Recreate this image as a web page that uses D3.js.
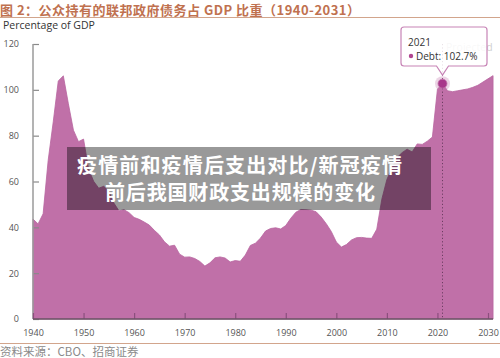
<!DOCTYPE html>
<html>
<head>
<meta charset="utf-8">
<script src="https://cdn.jsdelivr.net/npm/d3@7/dist/d3.min.js"></script>
<style>
html,body{margin:0;padding:0;background:#fff;}
svg{display:block;}
</style>
</head>
<body>
<svg id="chart" width="500" height="358"></svg>
<script>
const years = d3.range(1940, 2032);
const debt = [
  43.6, 41.5, 45.9, 69.2, 86.0, 103.9, 106.1, 93.9, 82.4, 77.4,
  78.5, 65.4, 60.1, 57.1, 57.9, 55.7, 50.6, 47.2, 47.7, 46.4,
  44.3, 43.5, 42.3, 41.0, 38.7, 36.7, 33.7, 31.8, 32.2, 28.3,
  27.0, 27.1, 26.4, 25.1, 23.1, 24.5, 26.7, 27.1, 26.6, 24.9,
  25.5, 25.2, 27.9, 32.1, 33.1, 35.3, 38.4, 39.5, 39.8, 39.3,
  40.8, 44.0, 46.6, 47.8, 47.7, 47.5, 46.8, 44.5, 41.6, 38.2,
  33.6, 31.4, 32.5, 34.5, 35.5, 35.6, 35.3, 35.2, 39.2, 52.3,
  60.9, 65.9, 70.4, 72.6, 74.1, 72.9, 76.4, 76.2, 77.6, 79.4,
  100.3, 102.7, 99.6, 99.2, 99.6, 100.0, 100.4, 101.1, 102.0, 103.4,
  104.8, 106.2
];
const xTicks = [1940, 1950, 1960, 1970, 1980, 1990, 2000, 2010, 2020, 2030];
const yTicks = [0, 20, 40, 60, 80, 100, 120];
const highlightYear = 2021;
const titleText = "图 2：公众持有的联邦政府债务占 GDP 比重（1940-2031）";
const yAxisTitle = "Percentage of GDP";
const sourceText = "资料来源：CBO、招商证券";
const overlayLines = ["疫情前和疫情后支出对比/新冠疫情", "前后我国财政支出规模的变化"];
const tooltipYear = "2021";
const tooltipLabel = "Debt: 102.7%";
const projectedLabel = "Projected";

const data = years.map((yr, i) => ({year: yr, value: debt[i]}));
const svg = d3.select("#chart");
const x = d3.scaleLinear().domain([1940, 2030]).range([33, 488]);
const y = d3.scaleLinear().domain([0, 120]).range([319, 44]);
const purple = "#c070a8";
const cjk = "'Noto Sans CJK SC', 'Noto Sans', sans-serif";
const lat = "'Open Sans', 'Noto Sans', sans-serif";

// title
svg.append("text").attr("x", 0).attr("y", 15)
  .attr("font-family", cjk).attr("font-weight", 700).attr("font-size", 13)
  .attr("fill", "#c0714f").attr("textLength", 360).attr("lengthAdjust", "spacing").text(titleText);
svg.append("line").attr("x1", 0).attr("x2", 500).attr("y1", 17.5).attr("y2", 17.5)
  .attr("stroke", "#d2a58c").attr("stroke-width", 1.2);

svg.append("text").attr("x", 3).attr("y", 29)
  .attr("font-family", lat).attr("font-size", 10.5).attr("fill", "#333").text(yAxisTitle);

// area
const area = d3.area().x(d => x(d.year)).y0(y(0)).y1(d => y(d.value));
svg.append("path").datum(data).attr("d", area)
  .attr("fill", purple).attr("stroke", "#b8649f").attr("stroke-width", 0.8);

// projected label (behind tooltip)
svg.append("text").attr("x", 446).attr("y", 51)
  .attr("font-family", lat).attr("font-size", 10.5).attr("fill", "#d0d0d0").text(projectedLabel);

// y axis
const gy = svg.append("g").attr("transform", "translate(33,0)")
  .call(d3.axisLeft(y).tickValues(yTicks).tickSize(-6).tickPadding(14));
gy.select(".domain").remove();
gy.selectAll(".tick line").attr("stroke", "#8a8a8a").attr("stroke-width", 1.2);
gy.selectAll(".tick text").attr("font-family", lat).attr("font-size", 9).attr("fill", "#555");
svg.append("line").attr("x1", 33).attr("x2", 33).attr("y1", y(120)).attr("y2", y(0))
  .attr("stroke", "#9a9a9a").attr("stroke-width", 1.5);

// x axis
const gx = svg.append("g").attr("transform", `translate(0,${y(0)})`)
  .call(d3.axisBottom(x).tickValues(xTicks).tickSize(-6).tickPadding(11).tickFormat(d3.format("d")));
gx.select(".domain").remove();
gx.selectAll(".tick line").attr("stroke", "#8c4f7e").attr("stroke-width", 1.2);
gx.selectAll(".tick text").attr("font-family", lat).attr("font-size", 9).attr("fill", "#555");
svg.append("line").attr("x1", 33).attr("x2", x(2031)).attr("y1", y(0)).attr("y2", y(0))
  .attr("stroke", "#6a5565").attr("stroke-width", 1.5);

// dotted line at highlight
const hx = x(highlightYear), hv = debt[years.indexOf(highlightYear)], hy = y(hv);
svg.append("line").attr("x1", hx).attr("x2", hx).attr("y1", 44).attr("y2", y(0))
  .attr("stroke", "#6d3d62").attr("stroke-width", 1).attr("stroke-dasharray", "1.2,2.2");

// halo & point
svg.append("circle").attr("cx", hx).attr("cy", hy).attr("r", 7.5)
  .attr("fill", purple).attr("fill-opacity", 0.3);
svg.append("circle").attr("cx", hx).attr("cy", hy).attr("r", 4.5)
  .attr("fill", "#a8378a").attr("stroke", "#c070a8").attr("stroke-width", 0.8);

// tooltip
const bx0 = 401, bx1 = 487, by0 = 27, by1 = 66, r = 3;
const tipX = hx, tipY = hy - 8.5;
const tp = d3.path();
tp.moveTo(bx0 + r, by0);
tp.lineTo(bx1 - r, by0); tp.quadraticCurveTo(bx1, by0, bx1, by0 + r);
tp.lineTo(bx1, by1 - r); tp.quadraticCurveTo(bx1, by1, bx1 - r, by1);
tp.lineTo(tipX + 6, by1); tp.lineTo(tipX, tipY); tp.lineTo(tipX - 6, by1);
tp.lineTo(bx0 + r, by1); tp.quadraticCurveTo(bx0, by1, bx0, by1 - r);
tp.lineTo(bx0, by0 + r); tp.quadraticCurveTo(bx0, by0, bx0 + r, by0);
tp.closePath();
svg.append("path").attr("d", tp.toString())
  .attr("fill", "#fff").attr("fill-opacity", 0.85)
  .attr("stroke", "#c784b6").attr("stroke-width", 1.2);
svg.append("text").attr("x", 408).attr("y", 46)
  .attr("font-family", lat).attr("font-size", 10).attr("fill", "#333").text(tooltipYear);
svg.append("circle").attr("cx", 411).attr("cy", 56).attr("r", 2.2).attr("fill", "#b0448f");
svg.append("text").attr("x", 416).attr("y", 59.5)
  .attr("font-family", lat).attr("font-size", 10).attr("fill", "#333").text(tooltipLabel);

// overlay banner
svg.append("rect").attr("x", 67).attr("y", 147).attr("width", 364).attr("height", 63)
  .attr("fill", "#000").attr("fill-opacity", 0.4);
svg.append("text").attr("x", 77).attr("y", 172.5)
  .attr("font-family", cjk).attr("font-weight", 700).attr("font-size", 20).attr("fill", "#fff")
  .attr("textLength", 325).attr("lengthAdjust", "spacing").text(overlayLines[0]);
svg.append("text").attr("x", 105).attr("y", 199.5)
  .attr("font-family", cjk).attr("font-weight", 700).attr("font-size", 20).attr("fill", "#fff")
  .attr("textLength", 270).attr("lengthAdjust", "spacing").text(overlayLines[1]);

// bottom rule and source
svg.append("line").attr("x1", 0).attr("x2", 500).attr("y1", 343.5).attr("y2", 343.5)
  .attr("stroke", "#d2a58c").attr("stroke-width", 1.2);
svg.append("text").attr("x", 0).attr("y", 355.5)
  .attr("font-family", cjk).attr("font-size", 11.5).attr("fill", "#8a8a8a").text(sourceText);
</script>
</body>
</html>
